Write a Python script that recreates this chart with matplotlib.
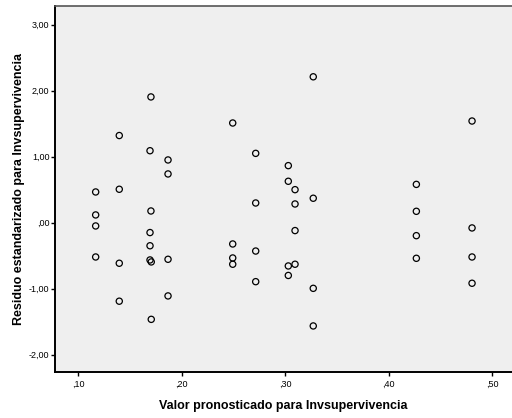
import matplotlib
matplotlib.use("Agg")
import matplotlib.pyplot as plt
from matplotlib.ticker import FuncFormatter

plt.rcParams['font.family'] = ['Liberation Sans', 'DejaVu Sans']

# valores pronosticados (eje x) y residuos estandarizados (eje y)
pronosticado = [
    0.1168, 0.1168, 0.1168, 0.1168,
    0.1396, 0.1396, 0.1396, 0.1396,
    0.1702, 0.1693, 0.1702, 0.1693, 0.1693, 0.1693, 0.1705, 0.1705,
    0.1867, 0.1867, 0.1867, 0.1867,
    0.2492, 0.2492, 0.2492, 0.2492,
    0.2714, 0.2714, 0.2714, 0.2714,
    0.3029, 0.3029, 0.3029, 0.3029,
    0.3094, 0.3094, 0.3094, 0.3094,
    0.3270, 0.3270, 0.3270, 0.3270,
    0.4266, 0.4266, 0.4266, 0.4266,
    0.4804, 0.4804, 0.4804, 0.4804,
]
residuo = [
    0.465, 0.117, -0.05, -0.52,
    1.32, 0.506, -0.615, -1.19,
    1.905, 1.09, 0.177, -0.15, -0.35, -0.565, -0.595, -1.465,
    0.95, 0.738, -0.555, -1.11,
    1.51, -0.323, -0.535, -0.63,
    1.05, 0.298, -0.43, -0.894,
    0.864, 0.627, -0.656, -0.80,
    0.50, 0.283, -0.12, -0.63,
    2.21, 0.37, -0.995, -1.565,
    0.58, 0.172, -0.197, -0.54,
    1.54, -0.08, -0.52, -0.918,
]
xticks = [0.10, 0.20, 0.30, 0.40, 0.50]
yticks = [-2, -1, 0, 1, 2, 3]

fig = plt.figure(figsize=(5.12, 4.18), dpi=100)
ax = fig.add_axes([0.1074, 0.1089, 0.8926, 0.8779])
ax.set_facecolor('#efefef')

ax.scatter(pronosticado, residuo, s=20, facecolors='none',
           edgecolors='black', linewidths=0.9, zorder=3)

ax.set_xlim(0.0775, 0.519)
ax.set_ylim(-2.27, 3.29)
ax.set_xticks(xticks)
ax.set_yticks(yticks)


def coma(v, pos):
    s = '%.2f' % v
    if s.startswith('0.'):
        s = s[1:]
    elif s.startswith('-0.'):
        s = '-' + s[2:]
    return s.replace('.', ',')


ax.xaxis.set_major_formatter(FuncFormatter(coma))
ax.yaxis.set_major_formatter(FuncFormatter(coma))
ax.tick_params(axis='both', direction='out', length=3, width=1,
               labelsize=6.5, colors='black', pad=1)
ax.tick_params(axis='x', pad=2)

for side in ['left', 'bottom']:
    ax.spines[side].set_linewidth(1.4)
    ax.spines[side].set_color('black')
ax.spines['top'].set_color('#555555')
ax.spines['top'].set_linewidth(1.2)
ax.spines['right'].set_visible(False)

ax.set_xlabel('Valor pronosticado para Invsupervivencia',
              fontsize=9, fontweight='bold', labelpad=8)
ax.set_ylabel('Residuo estandarizado para Invsupervivencia',
              fontsize=9, fontweight='bold', labelpad=3)

fig.savefig('out.png', dpi=100)
